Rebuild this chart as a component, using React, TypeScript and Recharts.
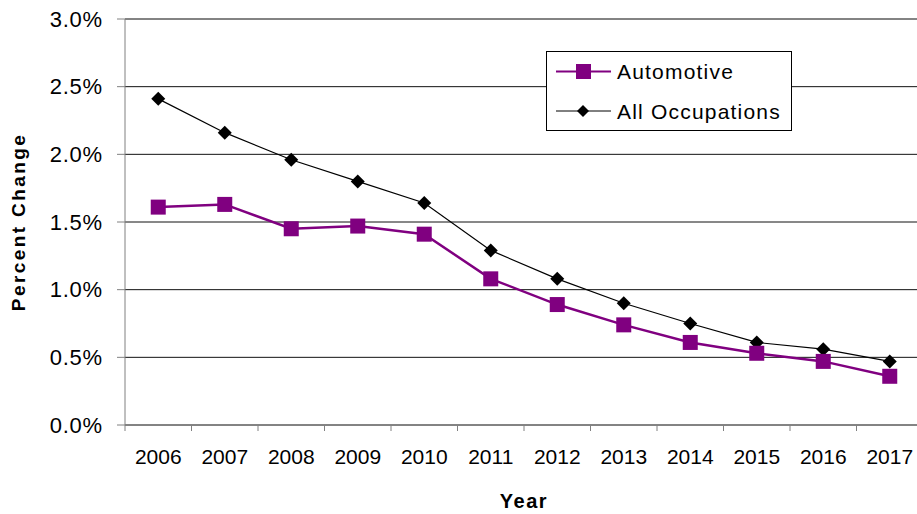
import React from 'react';
import { LineChart, Line, XAxis, YAxis, CartesianGrid, ReferenceLine } from 'recharts';

const years = ['2006', '2007', '2008', '2009', '2010', '2011', '2012', '2013', '2014', '2015', '2016', '2017'];
const automotive = [1.61, 1.63, 1.45, 1.47, 1.41, 1.08, 0.89, 0.74, 0.61, 0.53, 0.47, 0.36];
const allOccupations = [2.41, 2.16, 1.96, 1.8, 1.64, 1.29, 1.08, 0.9, 0.75, 0.61, 0.56, 0.47];
const yTicks = [0, 0.5, 1, 1.5, 2, 2.5, 3];

const FONT = '"Liberation Sans", Arial, sans-serif';
const PURPLE = '#800080';
const AXIS = '#808080';

const data = years.map((year, i) => ({
  idx: i,
  year,
  automotive: automotive[i],
  all: allOccupations[i],
}));

// labels sit on category centres, tick marks on the boundaries between them
const xTicks = [...years.map((_, i) => i - 0.5), years.length - 0.5, ...years.map((_, i) => i)];

const XTick = ({ x, y, payload }: any) => {
  const v = payload.value;
  if (Number.isInteger(v)) {
    return (
      <text x={x} y={y + 39} textAnchor="middle" fontSize={21} fill="#000" fontFamily={FONT}>
        {years[v]}
      </text>
    );
  }
  return <line x1={x} x2={x} y1={y} y2={y + 6} stroke={AXIS} />;
};

const renderSquare = (p: any) => (
  <rect key={`sq-${p.index}`} x={p.cx - 7.5} y={p.cy - 7.5} width={15} height={15} fill={PURPLE} />
);

const renderDiamond = (p: any) => (
  <polygon
    key={`dm-${p.index}`}
    points={`${p.cx},${p.cy - 7} ${p.cx + 7},${p.cy} ${p.cx},${p.cy + 7} ${p.cx - 7},${p.cy}`}
    fill="#000"
  />
);

const YLabel = ({ viewBox }: any) => {
  const cx = viewBox.x + 25;
  const cy = viewBox.y + viewBox.height / 2;
  return (
    <text
      x={cx}
      y={cy}
      transform={`rotate(-90 ${cx} ${cy})`}
      textAnchor="middle"
      fontSize={19}
      fontWeight="bold"
      letterSpacing={2.4}
      fill="#000"
      fontFamily={FONT}
    >
      Percent Change
    </text>
  );
};

const XLabel = ({ viewBox }: any) => (
  <text
    x={viewBox.x + viewBox.width / 2}
    y={viewBox.y + 83}
    textAnchor="middle"
    fontSize={20}
    fontWeight="bold"
    letterSpacing={1.5}
    fill="#000"
    fontFamily={FONT}
  >
    Year
  </text>
);

function ChartLegend() {
  return (
    <svg
      width={246}
      height={80}
      style={{ position: 'absolute', left: 546, top: 51 }}
      fontFamily={FONT}
    >
      <rect x={0.5} y={0.5} width={245} height={79} fill="#fff" stroke="#000" />
      <line x1={10} x2={65} y1={20.5} y2={20.5} stroke={PURPLE} strokeWidth={2} />
      <rect x={30} y={13} width={15} height={15} fill={PURPLE} />
      <text x={71} y={28} fontSize={21} letterSpacing={1.2} fill="#000">
        Automotive
      </text>
      <line x1={10} x2={65} y1={60} y2={60} stroke="#000" strokeWidth={1} />
      <polygon points="37,54 43,60 37,66 31,60" fill="#000" />
      <text x={71} y={68} fontSize={21} letterSpacing={1.2} fill="#000">
        All Occupations
      </text>
    </svg>
  );
}

export default function App() {
  return (
    <div
      style={{
        position: 'absolute',
        left: 0,
        top: 0,
        width: 917,
        height: 514,
        overflow: 'hidden',
        background: '#fff',
      }}
    >
      <LineChart width={930} height={514} data={data} margin={{ top: 19, right: 7, left: 0, bottom: 0 }}>
        <CartesianGrid vertical={false} stroke="#111" />
        <ReferenceLine y={3} stroke={AXIS} />
        <XAxis
          dataKey="idx"
          type="number"
          domain={[-0.5, years.length - 0.5]}
          ticks={xTicks}
          interval={0}
          height={89}
          stroke={AXIS}
          tickLine={false}
          tickSize={0}
          tickMargin={0}
          tick={<XTick />}
          label={{ content: XLabel }}
        />
        <YAxis
          domain={[0, 3]}
          ticks={yTicks}
          interval={0}
          width={125}
          stroke={AXIS}
          tickSize={8}
          tickMargin={14}
          tickFormatter={(v: number) => `${v.toFixed(1)}%`}
          tick={{ fontSize: 22, fill: '#000', fontFamily: FONT, letterSpacing: 0.8 }}
          label={{ content: YLabel }}
        />
        <Line
          dataKey="all"
          stroke="#000"
          strokeWidth={1.2}
          dot={renderDiamond}
          activeDot={false}
          isAnimationActive={false}
        />
        <Line
          dataKey="automotive"
          stroke={PURPLE}
          strokeWidth={2.5}
          dot={renderSquare}
          activeDot={false}
          isAnimationActive={false}
        />
      </LineChart>
      <ChartLegend />
    </div>
  );
}
